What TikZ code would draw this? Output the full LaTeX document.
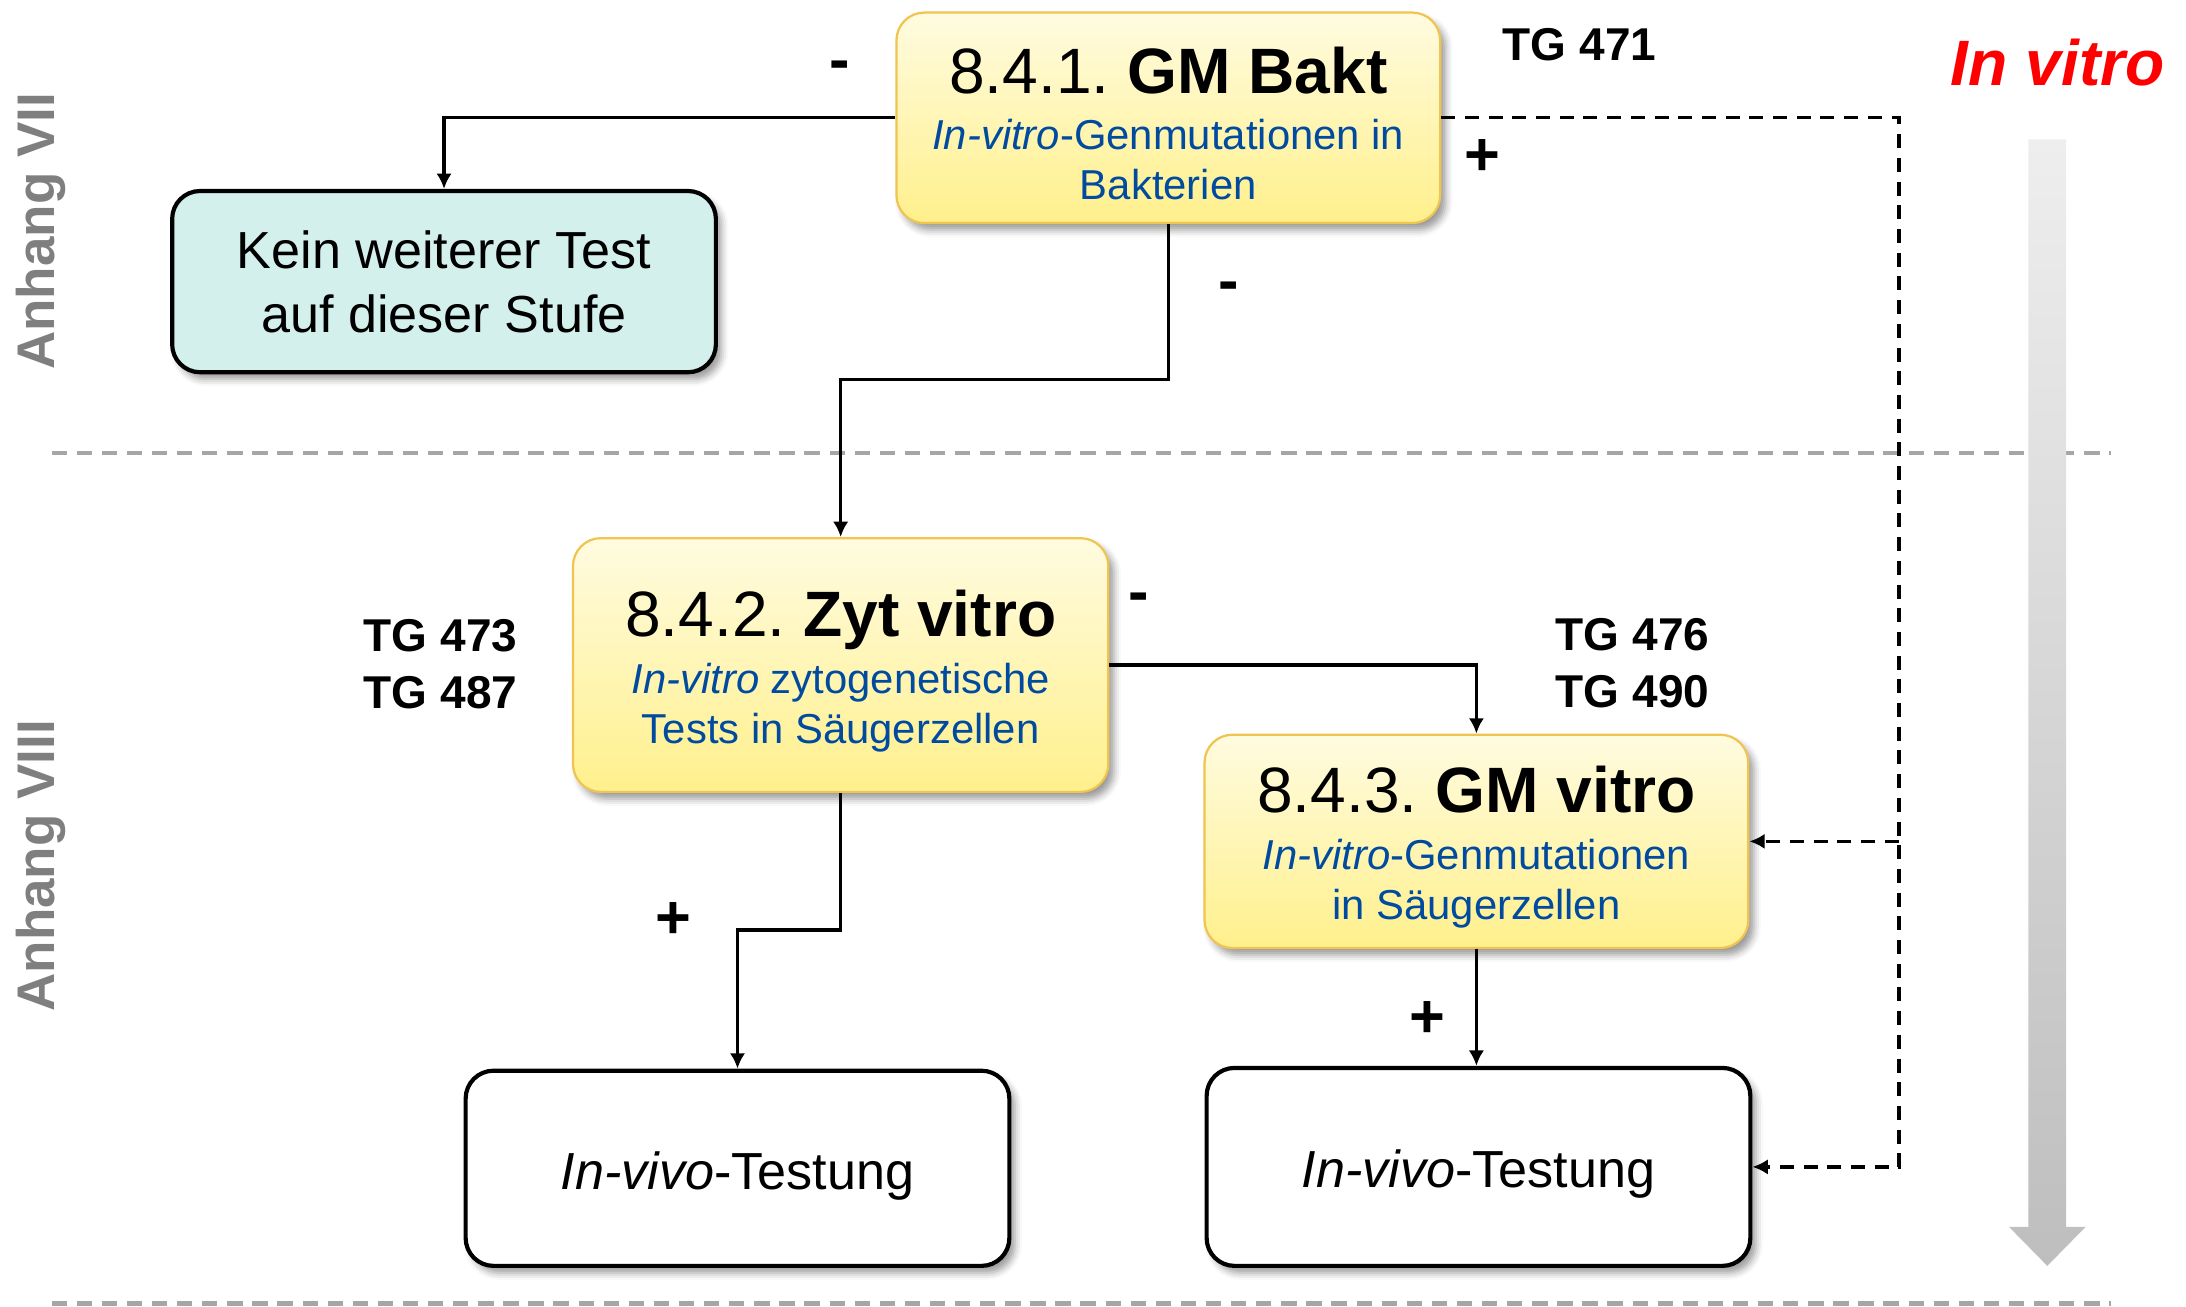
\documentclass[tikz,border=0pt]{standalone}
\usepackage{fontspec}
\setmainfont{Liberation Sans}
\usetikzlibrary{arrows.meta,shadows.blur}

\definecolor{txtblue}{RGB}{0,75,160}
\definecolor{boxborder}{RGB}{240,196,80}
\definecolor{yelltop}{RGB}{255,251,224}
\definecolor{yellbot}{RGB}{255,240,140}
\definecolor{mint}{RGB}{212,240,236}
\definecolor{sepgray}{RGB}{166,166,166}
\definecolor{labelgray}{RGB}{127,127,127}
\definecolor{arrtop}{RGB}{238,238,238}
\definecolor{arrbot}{RGB}{190,190,190}

% title line and blue description lines of a test box
\newcommand{\mkTitle}[2]{{\fontsize{23}{26}\selectfont\frenchspacing\rule{0pt}{21pt}#1 \textbf{#2}\par}}
\newcommand{\mkSub}[1]{{\fontsize{15}{18}\selectfont\color{txtblue}#1\par}}

\begin{document}
\begin{tikzpicture}[x=0.5pt,y=-0.5pt,
  softshadow/.style={blur shadow={shadow xshift=2pt,shadow yshift=-2.5pt,
      shadow blur radius=2.5pt,shadow opacity=40}},
  testbox/.style={rounded corners=10pt, draw=boxborder, line width=0.8pt,
      top color=yelltop, bottom color=yellbot, softshadow,
      minimum width=195pt, text width=190pt, align=flush center, inner sep=0pt},
  endbox/.style={rounded corners=10pt, draw=black, line width=1.5pt,
      softshadow, minimum width=195pt, minimum height=70pt,
      text width=190pt, align=flush center, inner sep=0pt,
      font=\fontsize{18.7}{23}\selectfont},
  conn/.style={line width=1.2pt, -{Latex[length=5.5pt,width=5.5pt]}},
  dashconn/.style={conn, dash pattern=on 5pt off 3.5pt},
  sep/.style={draw=sepgray, line width=1.5pt, dash pattern=on 5.5pt off 3.5pt},
  sign/.style={font=\fontsize{22}{22}\selectfont\bfseries, inner sep=0pt},
  tglabel/.style={font=\fontsize{16.5}{20.5}\selectfont\bfseries, align=center, inner sep=0pt},
  annex/.style={rotate=90, text=labelgray, font=\fontsize{19}{19}\selectfont\bfseries, inner sep=0pt}
]
\useasboundingbox (0,0) rectangle (1568,937);

% level separators
\draw[sep] (37,325) -- (1514,325);
\draw[sep] (37,935) -- (1514,935);

% annex labels
\node[annex] (anh7) at (29,166) {Anhang VII};
\node[annex] (anh8) at (29,621) {Anhang VIII};

% in vitro direction arrow
\node[text=red, font=\fontsize{23}{23}\selectfont\bfseries\itshape, inner sep=0pt] (invitro) at (1476,45) {In vitro};
\shade[top color=arrtop, bottom color=arrbot]
  (1455,100) -- (1482,100) -- (1482,880) -- (1496,880) -- (1468.5,908)
  -- (1441,880) -- (1455,880) -- cycle;

% test boxes
\node[testbox, minimum height=75.5pt] (bakt) at (838,84.5)
  {\mkTitle{8.4.1.}{GM Bakt}\vspace{2pt}\mkSub{\textit{In-vitro}-Genmutationen in\\Bakterien}};
\node[testbox, minimum width=192pt, minimum height=91pt] (zyt) at (603,477)
  {\mkTitle{8.4.2.}{Zyt vitro}\vspace{2.5pt}\mkSub{\textit{In-vitro} zytogenetische\\Tests in Säugerzellen}};
\node[testbox, minimum height=76.5pt] (gmv) at (1059,603.5)
  {\mkTitle{8.4.3.}{GM vitro}\vspace{2.5pt}\mkSub{\textit{In-vitro}-Genmutationen\\in Säugerzellen}};

% outcome boxes
\node[endbox, fill=mint, minimum height=65pt] (kein) at (318.5,202) {Kein weiterer Test\\auf dieser Stufe};
\node[endbox, fill=white] (vivoL) at (529,838) {\rule{0pt}{19pt}\textit{In-vivo}-Testung};
\node[endbox, fill=white, minimum height=71pt] (vivoR) at (1060.5,837) {\rule{0pt}{19pt}\textit{In-vivo}-Testung};

% guideline numbers
\node[tglabel] (tg471) at (1133,32) {TG 471};
\node[tglabel] (tg473) at (316,476.5) {TG 473\\TG 487};
\node[tglabel] (tg476) at (1171,475.5) {TG 476\\TG 490};

% result signs
\node[sign] (s1) at (602,51) {-};
\node[sign] (s2) at (1063,113) {+};
\node[sign] (s3) at (881,209) {-};
\node[sign] (s4) at (817,432) {-};
\node[sign] (s5) at (483,660) {+};
\node[sign] (s6) at (1024,731) {+};

% connectors
\coordinate (j1) at (838,272);
\coordinate (j2) at (603,667);
\coordinate (dtop) at (1362,84);
\draw[conn] (bakt.west) -| (kein.north);
\draw[conn] (bakt.south) -- (j1) -| (zyt.north);
\draw[conn] (zyt.east) -| (gmv.north);
\draw[conn] (zyt.south) -- (j2) -| (vivoL.north);
\draw[conn] (gmv.south) -- (gmv.south |- vivoR.north);
\draw[dashconn] (bakt.east) -- (bakt.east -| dtop) |- (vivoR.east);
\draw[dashconn] (gmv.east -| dtop) -- (gmv.east);
\end{tikzpicture}
\end{document}
